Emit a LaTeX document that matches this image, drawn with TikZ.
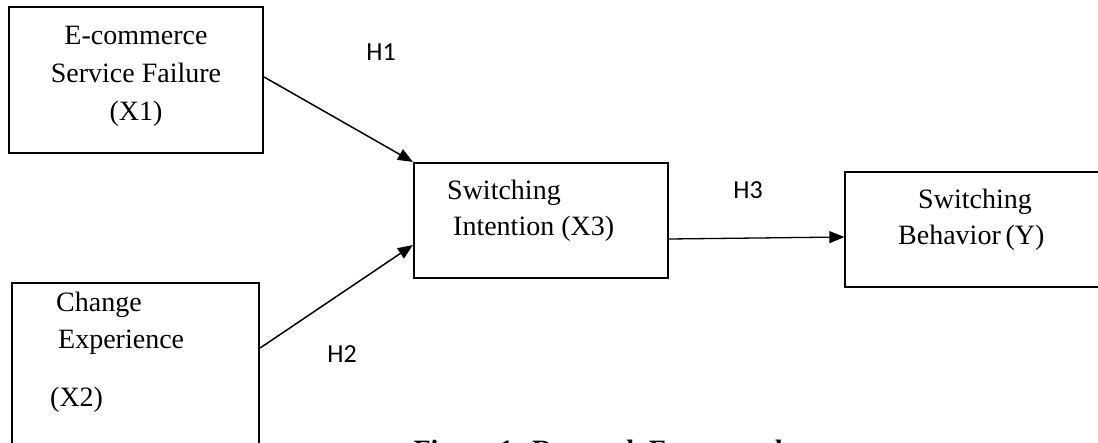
\documentclass[tikz,border=0pt]{standalone}
\usepackage{fontspec}
\setmainfont{Liberation Serif}
\newfontfamily\hfont{Carlito}
\usetikzlibrary{arrows.meta}
\begin{document}
\begin{tikzpicture}[x=1pt,y=-1pt,
  varbox/.style={draw, line width=2.2pt, inner sep=0pt, rectangle},
  thinbox/.style={draw, line width=1.2pt, inner sep=0pt, rectangle},
  boxtext/.style={inner sep=0pt, font=\fontsize{28}{38}\selectfont},
  hyp/.style={inner sep=0pt, font=\hfont\fontsize{26}{30}\selectfont},
  path/.style={line width=1.5pt, -{Triangle[length=15pt,width=12pt]}},
  flat/.style={line width=1.3pt, -{Triangle[length=15pt,width=12pt]}}]
\useasboundingbox (0,0) rectangle (1098,442);

% construct boxes
\node[varbox, minimum width=254pt, minimum height=146pt] (x1) at (136,80) {};
\node[varbox, minimum width=247pt, minimum height=166pt] (x2) at (135.5,366) {};
\node[varbox, minimum width=254pt, minimum height=115pt] (x3) at (541,220.5) {};
\node[thinbox, minimum width=260pt, minimum height=115pt] (y) at (975,229.5) {};

% box labels
\node[boxtext, align=center] (x1t) at (136,76) {E-commerce\\Service Failure\\(X1)};
\node[boxtext, anchor=west] (x2a) at (56,305) {Change};
\node[boxtext, anchor=west] (x2b) at (58,342) {Experience};
\node[boxtext, anchor=west] (x2c) at (50,400) {(X2)};
\node[boxtext, anchor=west] (x3a) at (447,193) {Switching};
\node[boxtext, anchor=west] (x3b) at (453,229) {Intention (X3)};
\node[boxtext] (ya) at (975,202) {Switching};
\node[boxtext, anchor=west] (yb) at (898,238) {Behavior\,(Y)};

% hypothesised paths (yshift is in canvas units, upwards)
\draw[path] ([yshift=3pt]x1.east) -- (x3.north west);
\draw[path] ([yshift=18pt]x2.east) -- ([yshift=-24.5pt]x3.west);
\draw[flat] ([yshift=-18.5pt]x3.east) -- ([yshift=-7.5pt]y.west);

\node[hyp] (h1) at (381,52) {H1};
\node[hyp] (h2) at (342,354) {H2};
\node[hyp] (h3) at (748,190) {H3};

% caption, running off the lower edge
\node[inner sep=0pt, anchor=base, font=\bfseries\fontsize{28}{32}\selectfont] (cap) at (602,459) {Figure 1: Research Framework};
\end{tikzpicture}
\end{document}
